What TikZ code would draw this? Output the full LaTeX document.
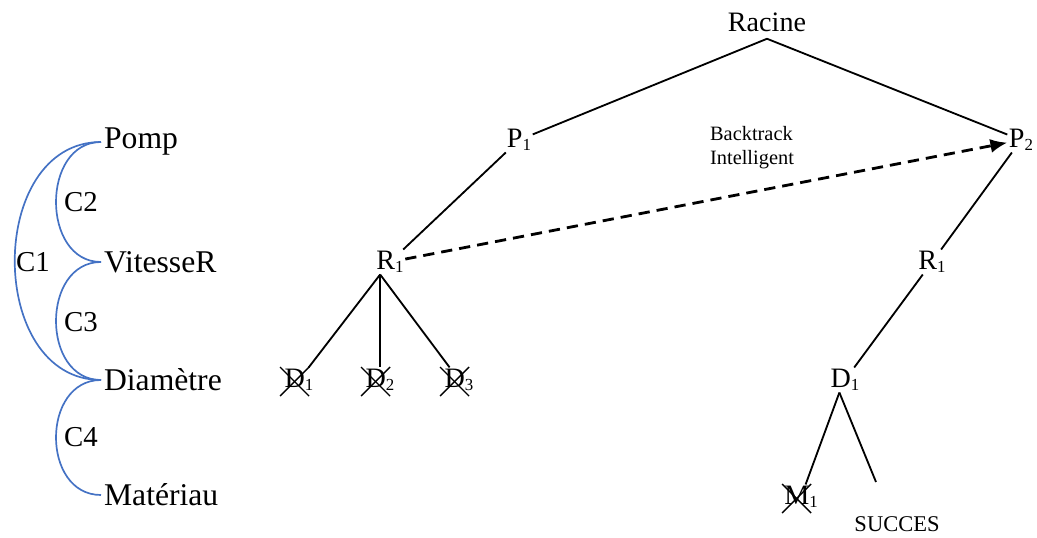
\documentclass[tikz,border=0pt]{standalone}
\usepackage{fontspec}
\setmainfont{Liberation Serif}
\usepackage{xcolor}
\usetikzlibrary{arrows.meta,calc}
\definecolor{linkblue}{RGB}{68,114,196}
\tikzset{
  treenode/.style={inner sep=1pt, font=\fontsize{20}{24}\selectfont},
  varnode/.style={inner sep=2pt, anchor=west, font=\fontsize{22.5}{26}\selectfont},
  clabel/.style={inner sep=0pt, font=\fontsize{20.5}{24}\selectfont},
  branch/.style={line width=1.3pt},
  link/.style={draw=linkblue, line width=1.2pt},
  cutline/.style={line width=1pt},
  backarrow/.style={line width=2pt, dash pattern=on 8pt off 5pt,
                    -{Latex[length=12pt,width=10pt]}},
}
% small index near the baseline
\newcommand{\idx}[1]{\raisebox{-0.25ex}{\fontsize{12}{14}\selectfont #1}}
% cross over a pruned value
\newcommand{\cutnode}[1]{%
  \draw[cutline] ($(#1)+(-19,-13)$) -- ($(#1)+(10,16)$);
  \draw[cutline] ($(#1)+(-19,16)$) -- ($(#1)+(10,-13)$);
}

\begin{document}
\begin{tikzpicture}[x=0.025cm, y=-0.025cm]
  \useasboundingbox (0,0) rectangle (1037,538);

  % variables and constraints
  \node[varnode] (pomp) at (101,142) {Pomp};
  \node[varnode] (vit)  at (101,262) {VitesseR};
  \node[varnode] (diam) at (101,380) {Diamètre};
  \node[varnode] (mat)  at (101,495) {Matériau};

  \draw[link] (pomp.west) .. controls +(-115,0) and +(-115,0) .. (diam.west);
  \draw[link] (pomp.west) .. controls +(-60,0) and +(-60,0) .. (vit.west);
  \draw[link] (vit.west)  .. controls +(-60,0) and +(-60,0) .. (diam.west);
  \draw[link] (diam.west) .. controls +(-60,0) and +(-60,0) .. (mat.west);

  \node[clabel] (c1) at (33,262) {C1};
  \node[clabel] (c2) at (81,202) {C2};
  \node[clabel] (c3) at (81,322) {C3};
  \node[clabel] (c4) at (81,437) {C4};

  % search tree
  \node[treenode] (root) at (767,22)  {Racine};
  \node[treenode] (p1)   at (519,140) {P\idx{1}};
  \node[treenode] (p2)   at (1021,140) {P\idx{2}};
  \node[treenode] (r1)   at (390,262) {R\idx{1}};
  \node[treenode] (r2)   at (932,262) {R\idx{1}};
  \node[treenode] (d1)   at (299,380) {D\idx{1}};
  \node[treenode] (d2)   at (380,380) {D\idx{2}};
  \node[treenode] (d3)   at (459,380) {D\idx{3}};
  \node[treenode] (d4)   at (845,380) {D\idx{1}};
  \node[treenode] (m1)   at (801,497) {M\idx{1}};
  \node[treenode, font=\fontsize{16}{19}\selectfont] (succ) at (897,524) {SUCCES};
  \coordinate (send) at (876,482);

  \node[align=left, inner sep=0pt, font=\fontsize{14.5}{17}\selectfont]
    (bt) at (752,148) {Backtrack\\Intelligent};

  \draw[branch] ([yshift=-4pt]root.south) -- (p1);
  \draw[branch] ([yshift=-4pt]root.south) -- (p2);
  \draw[branch] (p1) -- (r1);
  \draw[branch] ([xshift=-7pt]r1.south) -- (d1);
  \draw[branch] ([xshift=-7pt]r1.south) -- ([xshift=-7pt]r1.south |- d2.north);
  \draw[branch] ([xshift=-7pt]r1.south) -- (d3);
  \draw[branch] (p2) -- (r2);
  \draw[branch] (r2) -- (d4);
  \draw[branch] ([xshift=-4pt]d4.south) -- (m1);
  \draw[branch] ([xshift=-4pt]d4.south) -- (send);

  \draw[backarrow] (r1) -- (p2);

  \cutnode{d1}
  \cutnode{d2}
  \cutnode{d3}
  \cutnode{m1}
\end{tikzpicture}
\end{document}
